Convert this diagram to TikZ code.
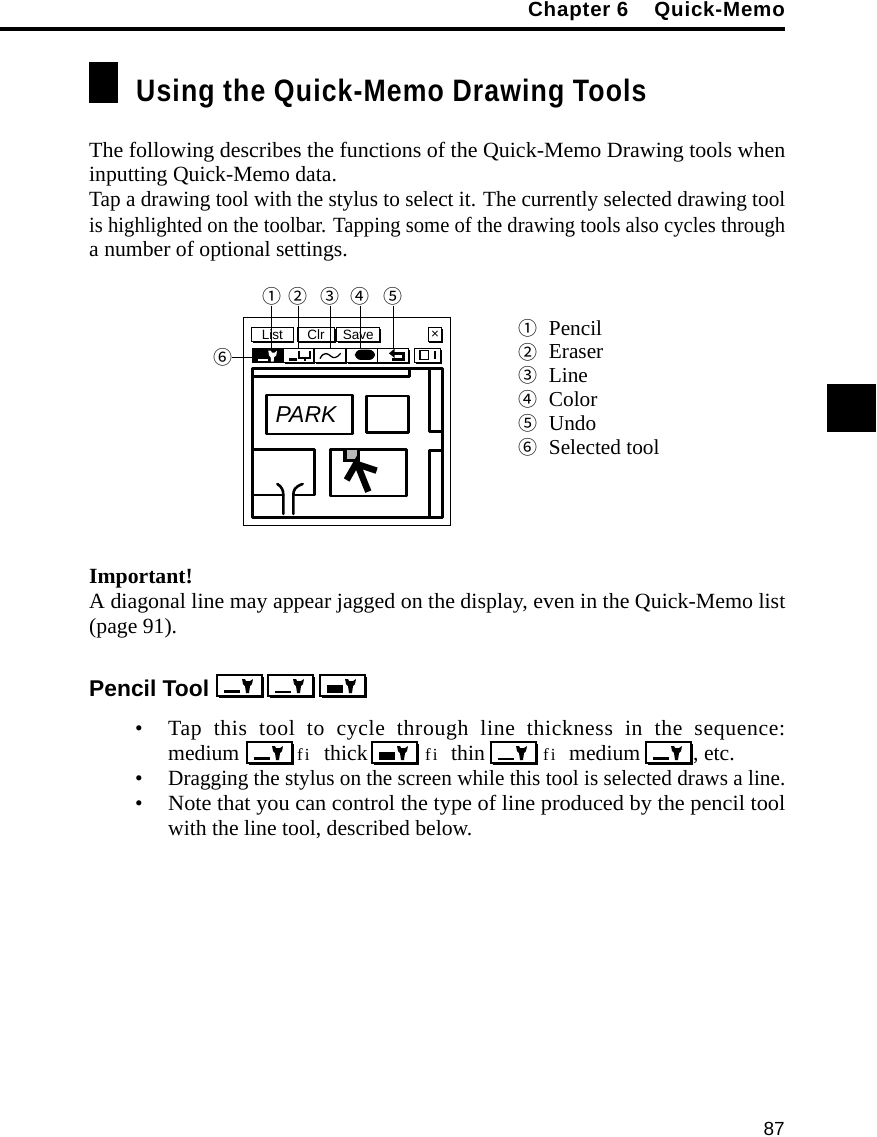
\documentclass[tikz,border=0pt]{standalone}
\usepackage{fontspec}
\setmainfont{Liberation Serif}
\setsansfont{Liberation Sans}
\newfontfamily\headfont[FakeStretch=.86,LetterSpace=3.6]{Liberation Sans}
\newfontfamily\chapfont[LetterSpace=4]{Liberation Sans}
\newfontfamily\circfont{Noto Sans CJK JP}
\usetikzlibrary{positioning,shadows}
\newcommand{\bodyfont}{\fontsize{21.7}{24}\selectfont}
\newcommand{\fullline}[2]{\resizebox{#1pt}{\height}{#2}}
\newcommand{\arrowword}{\fontsize{17}{17}\selectfont f\kern2pt i}

\begin{document}
\begin{tikzpicture}[x=1pt,y=-1pt,node distance=23.8pt,
	body line/.style={anchor=base west,inner sep=0pt,font=\bodyfont},
	num circle/.style={inner sep=0pt,font=\circfont\fontsize{19}{20}\selectfont},
	legend text/.style={inner sep=0pt,text height=14pt,text depth=0pt,font=\fontsize{21.3}{24}\selectfont},
	leader/.style={line width=.8pt},
	box shadow/.style={drop shadow={shadow xshift=2pt,shadow yshift=-2pt,fill=black,opacity=1}},
	small shadow/.style={drop shadow={shadow xshift=1.2pt,shadow yshift=-1.2pt,fill=black,opacity=1}},
	screen btn/.style={draw,fill=white,line width=1pt,inner sep=0pt,minimum height=14pt,
		font=\sffamily\fontsize{13.5}{14}\selectfont,small shadow},
	screen line/.style={line width=2.6pt,line cap=round,line join=round},
	icon rule/.initial=15,
	tool icon/.pic={
		\draw[fill=white,line width=1.3pt,box shadow] (0,0) rectangle (45,21);
		\fill (7,18) rectangle (23,\pgfkeysvalueof{/tikz/icon rule});
		\fill (25,4) -- (28,4) -- (29,6) -- (33,6) -- (36,4) -- (35,9) -- (33,11) -- (32,18) -- (29,18) -- (28,11) -- (26,9) -- cycle;
	}]
\useasboundingbox (0,0) rectangle (876,1137);
% page furniture
\node[inner sep=0pt,anchor=base east,font=\chapfont\bfseries\fontsize{20.5}{24}\selectfont] (chapter) at (785,17) {Chapter 6\hspace{26pt}Quick-Memo};
\fill (0,27) rectangle (785,31);
\fill (89,62) rectangle (118,103);
\fill (827,384) rectangle (876,432);
\node[inner sep=0pt,anchor=base west,font=\headfont\bfseries\fontsize{31}{34}\selectfont] (title) at (136,102) {Using the Quick-Memo Drawing Tools};
\node[inner sep=0pt,anchor=base east,font=\sffamily\fontsize{19}{24}\selectfont] (pagenum) at (785,1135) {87};

% intro
\node[body line] (p1) at (89,157.5) {\fullline{696}{The following describes the functions of the Quick-Memo Drawing tools when}};
\node[body line] (p2) at (89,181.5) {inputting Quick-Memo data.};
\node[body line] (p3) at (89,206.5) {\fullline{696}{Tap a drawing tool with the stylus to select it. The currently selected drawing tool}};
\node[body line] (p4) at (89,232) {\fullline{696}{is highlighted on the toolbar. Tapping some of the drawing tools also cycles through}};
\node[body line] (p5) at (89,256) {a number of optional settings.};

% screen
\begin{scope}[shift={(200,280)},x=.3333pt,y=-.3333pt]
\draw[line width=.8pt] (131,113) rectangle (750,735);
\node[screen btn,minimum width=41.5pt] (list) at (217,165) {List};
\node[screen btn,minimum width=37.5pt] (clr) at (348,165) {Clr};
\node[screen btn,minimum width=43pt] (save) at (475,165) {Save};
\node[screen btn,minimum width=13.5pt] (close) at (705,165) {\texttimes};
% toolbar
\fill (155,205) rectangle (250,248);
\foreach \a/\b in {250/342,344/438,440/533,533/627,645/722}
	\draw[fill=white,line width=1pt,small shadow] (\a,205) rectangle (\b,248);
\fill[white] (175,237) rectangle (205,244);
\fill[white] (205,212) -- (212,212) -- (216,218) -- (224,218) -- (231,212) -- (229,226) -- (222,232) -- (221,245) -- (213,245) -- (212,232) -- (207,226) -- cycle;
\fill (268,235) rectangle (290,242);
\draw[line width=2pt] (297,212) -- (297,234) -- (330,234) -- (330,212) (315,234) -- (315,242);
\draw[line width=1.3pt] (360,236) .. controls (372,212) and (385,222) .. (392,228) .. controls (400,236) and (410,235) .. (422,220);
\fill[rounded corners=6pt] (465,209) rectangle (525,240);
\fill (567,220) -- (584,206) -- (584,234) -- cycle;
\draw[line width=2.8pt] (580,220) -- (610,220) -- (610,238) -- (575,238);
\draw[line width=1.4pt] (660,212) rectangle (685,238);
\draw[line width=2pt] (705,214) -- (705,238);
% map
\draw[screen line] (158,265) rectangle (728,712);
\draw[screen line] (158,290) -- (628,290) -- (628,265);
\draw[screen line] (688,265) -- (688,455) -- (728,455);
\draw[screen line] (688,712) -- (688,512) -- (728,512);
\draw[screen line] (200,345) rectangle (458,462);
\draw[screen line] (500,348) rectangle (625,458);
\draw[screen line] (158,508) -- (343,508) -- (343,645) -- (280,645);
\draw[screen line] (158,645) -- (250,645);
\draw[screen line] (308,612) .. controls (285,620) and (280,630) .. (280,645) -- (280,702);
\draw[screen line] (232,612) .. controls (245,620) and (250,630) .. (250,645) -- (250,702);
\draw[screen line] (392,508) rectangle (620,648);
\node[inner sep=0pt,font=\sffamily\itshape\fontsize{23}{23}\selectfont] (park) at (318,405) {PARK};
\fill (430,508) rectangle (480,546);
\fill[gray!55] (440,511) rectangle (472,538);
\draw[line width=6.5pt] (440,600) -- (470,548) -- (505,635);
\draw[line width=6.5pt] (470,552) -- (530,572);
% callouts
\node[num circle] (c1) at (215,50) {①};
\node[num circle] (c2) at (295,50) {②};
\node[num circle] (c3) at (390,50) {③};
\node[num circle] (c4) at (480,50) {④};
\node[num circle] (c5) at (580,50) {⑤};
\node[num circle] (c6) at (68,232) {⑥};
\coordinate (t1) at (215,203);
\coordinate (t2) at (295,203);
\coordinate (t3) at (390,203);
\coordinate (t4) at (480,203);
\coordinate (t5) at (580,203);
\coordinate (t6) at (155,232);
\draw[leader] (c1) -- (t1);
\draw[leader] (c2) -- (t2);
\draw[leader] (c3) -- (t3);
\draw[leader] (c4) -- (t4);
\draw[leader] (c5) -- (t5);
\draw[leader] (c6) -- (t6);
\end{scope}

% legend
\node[num circle] (n1) at (528,328) {①};
\node[num circle] (n2) [below of=n1] {②};
\node[num circle] (n3) [below of=n2] {③};
\node[num circle] (n4) [below of=n3] {④};
\node[num circle] (n5) [below of=n4] {⑤};
\node[num circle] (n6) [below of=n5] {⑥};
\node[legend text] (l1) [right=11pt of n1] {Pencil};
\node[legend text] (l2) [right=11pt of n2] {Eraser};
\node[legend text] (l3) [right=11pt of n3] {Line};
\node[legend text] (l4) [right=11pt of n4] {Color};
\node[legend text] (l5) [right=11pt of n5] {Undo};
\node[legend text] (l6) [right=11pt of n6] {Selected tool};

% important
\node[body line,font=\bodyfont\bfseries] (imp) at (89,583) {Important!};
\node[body line] (imp1) at (89,608) {\fullline{696}{A diagonal line may appear jagged on the display, even in the Quick-Memo list}};
\node[body line] (imp2) at (89,633) {(page 91).};

% pencil tool
\node[inner sep=0pt,anchor=base west,font=\sffamily\bfseries\fontsize{22.8}{24}\selectfont] (pencil) at (89,696) {Pencil Tool};
\pic at (217,675) {tool icon};
\pic[icon rule=16] at (268,675) {tool icon};
\pic[icon rule=10] at (320,675) {tool icon};
\node[body line] (b1) at (135,735) {•};
\node[body line] (s1) at (168,735) {\addfontfeature{LetterSpace=3}\makebox[617pt][s]{Tap this tool to cycle through line thickness in the sequence:}};
\node[body line] (s2a) at (168,760) {medium};
\pic at (247,742) {tool icon};
\node[body line] (f1) at (297,760) {\arrowword};
\node[body line] (s2b) at (324,760) {thick};
\pic[icon rule=10] at (372,742) {tool icon};
\node[body line] (f2) at (425,760) {\arrowword};
\node[body line] (s2c) at (451,760) {thin};
\pic[icon rule=16] at (491,742) {tool icon};
\node[body line] (f3) at (543,760) {\arrowword};
\node[body line] (s2d) at (569,760) {medium};
\pic at (646,742) {tool icon};
\node[body line] (s2e) at (693,760) {, etc.};
\node[body line] (b2) at (135,785) {•};
\node[body line] (s3) at (168,785) {\fullline{617}{Dragging the stylus on the screen while this tool is selected draws a line.}};
\node[body line] (b3) at (135,810) {•};
\node[body line] (s4) at (168,810) {\fullline{617}{Note that you can control the type of line produced by the pencil tool}};
\node[body line] (s5) at (168,835) {with the line tool, described below.};
\end{tikzpicture}
\end{document}
